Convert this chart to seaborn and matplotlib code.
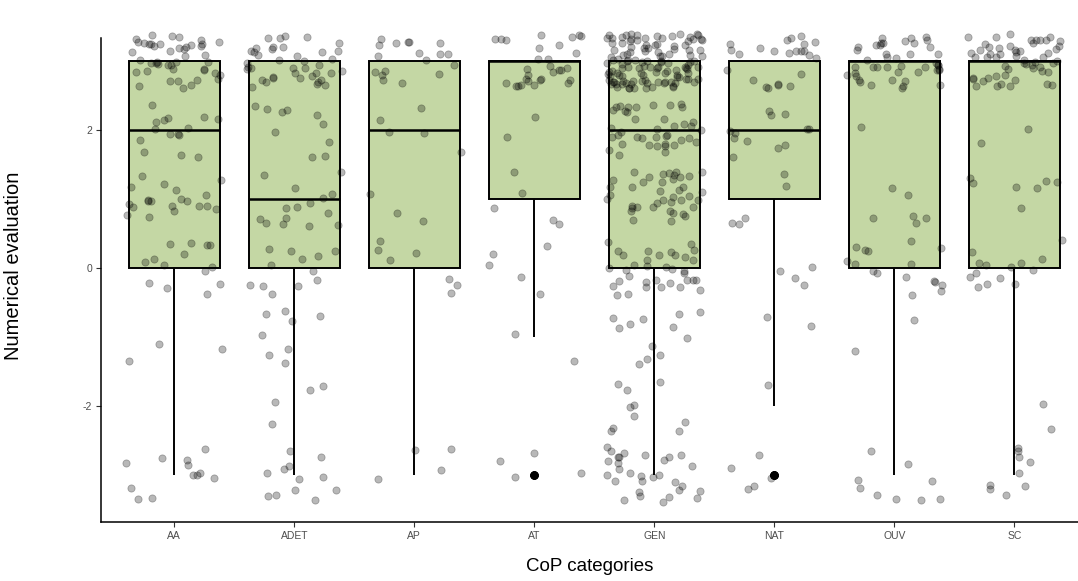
import numpy as np
import pandas as pd
import matplotlib
matplotlib.use("Agg")
import matplotlib.pyplot as plt
from matplotlib import font_manager
import seaborn as sns

# ratings -3..3, number of answers per category at each level
levels = [-3, -2, -1, 0, 1, 2, 3]
categories = ["AA", "ADET", "AP", "AT", "GEN", "NAT", "OUV", "SC"]
counts_aa = [12, 0, 3, 14, 20, 15, 45]
counts_adet = [12, 4, 8, 12, 15, 10, 40]
counts_ap = [4, 0, 0, 7, 3, 5, 18]
counts_at = [4, 0, 2, 5, 5, 2, 30]
counts_gen = [30, 10, 12, 35, 40, 40, 120]
counts_nat = [5, 1, 2, 4, 5, 12, 24]
counts_ouv = [9, 0, 2, 16, 6, 1, 44]
counts_sc = [9, 2, 0, 14, 7, 2, 55]

box_color = "#c4d7a4"


def pick_font():
    names = {f.name for f in font_manager.fontManager.ttflist}
    for name in ["Liberation Sans Narrow", "Liberation Sans", "DejaVu Sans"]:
        if name in names:
            return name
    return "DejaVu Sans"


def build_frame():
    all_counts = [counts_aa, counts_adet, counts_ap, counts_at,
                  counts_gen, counts_nat, counts_ouv, counts_sc]
    rows = []
    for cat, cnts in zip(categories, all_counts):
        for lvl, c in zip(levels, cnts):
            rows += [(cat, lvl)] * c
    return pd.DataFrame(rows, columns=["category", "value"])


def main():
    sns.set_theme(style="ticks")
    narrow = pick_font()
    plt.rcParams["font.family"] = ["Liberation Sans", "DejaVu Sans"]

    df = build_frame()
    # display jitter only (like geom_jitter), the values stay integers
    np.random.seed(7)
    df["shown"] = df["value"] + np.random.uniform(-0.4, 0.4, len(df))

    fig = plt.figure(figsize=(10.78, 5.81), dpi=100)
    ax = fig.add_axes([101 / 1078, 1 - 522 / 581, (1078 - 101) / 1078, (522 - 38) / 581])

    sns.boxplot(
        data=df, x="category", y="value", order=categories, ax=ax,
        color=box_color, saturation=1, width=0.76, linecolor="black",
        linewidth=1.4, showcaps=False,
        flierprops=dict(marker="o", markerfacecolor="black", markeredgecolor="black", markersize=5),
        medianprops=dict(color="black", linewidth=1.8),
    )
    sns.stripplot(
        data=df, x="category", y="shown", order=categories, ax=ax,
        jitter=0.4, color="black", alpha=0.28, size=5.2, linewidth=0.6,
        edgecolor="black", zorder=3,
    )
    # jittered points run a little past the panel top, as in the original
    for coll in ax.collections:
        coll.set_clip_on(False)

    ax.set_xlim(-0.61, 7.53)
    ax.set_ylim(-3.68, 3.33)
    ax.set_yticks([-2, 0, 2])
    ax.set_yticklabels(["-2", "0", "2"])
    for lab in ax.get_xticklabels() + ax.get_yticklabels():
        lab.set_family(narrow)
        lab.set_fontsize(7.5)
        lab.set_color("#4d4d4d")
    ax.tick_params(axis="both", length=3.5, width=0.8, color="#333333", pad=3)

    ax.set_xlabel("CoP categories", fontsize=13.5, family=narrow, color="black", labelpad=12)
    ax.set_ylabel("Numerical evaluation", fontsize=14.5, color="black", labelpad=22)
    ax.yaxis.set_label_coords(-0.08, 0.53)

    for side in ["top", "right"]:
        ax.spines[side].set_visible(False)
    for side in ["left", "bottom"]:
        ax.spines[side].set_color("black")
        ax.spines[side].set_linewidth(1.1)

    fig.savefig("out.png", dpi=100)


if __name__ == "__main__":
    main()
